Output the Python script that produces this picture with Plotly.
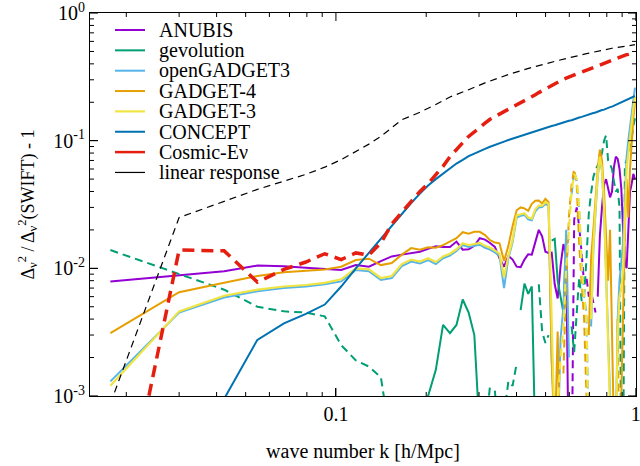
import math
import plotly.graph_objects as go

# Shared k bins [h/Mpc] of the measured spectra
K_BINS = [0.0177, 0.0300, 0.0424, 0.0547, 0.0671, 0.0794, 0.0918, 0.1041, 0.1165, 0.1288,
          0.1412, 0.1535, 0.1659, 0.1782, 0.1906, 0.2029, 0.2153, 0.2276, 0.2400, 0.2523,
          0.2647, 0.2770, 0.2894, 0.3017, 0.3141, 0.3264, 0.3388, 0.3511, 0.3635, 0.3758,
          0.3882, 0.4005, 0.4129, 0.4252, 0.4376, 0.4499, 0.4623, 0.4746, 0.4870, 0.4993,
          0.5117, 0.5240, 0.5364, 0.5487, 0.5611, 0.5734, 0.5858, 0.5981, 0.6105, 0.6228,
          0.6352, 0.6475, 0.6599, 0.6722, 0.6846, 0.6969, 0.7093, 0.7216, 0.7340, 0.7463,
          0.7587, 0.7710, 0.7834, 0.7957, 0.8081, 0.8204, 0.8328, 0.8451, 0.8575, 0.8698,
          0.8822, 0.8945, 0.9069, 0.9192, 0.9316, 0.9439, 0.9563, 0.9686, 0.9810, 0.9933]

# Relative difference to SWIFT (signed; negative values are drawn dashed as |value|)
ANUBIS = [0.0079, 0.0089, 0.0095, 0.0105, 0.0104, 0.0101, 0.0099, 0.0097, 0.0106, 0.0103,
          0.0114, 0.0124, 0.0128, 0.0131, 0.0135, 0.0142, 0.0149, 0.0147, 0.0147, 0.0162,
          0.0140, 0.0141, 0.0150, 0.0172, 0.0168, 0.0158, 0.0147, 0.0120, 0.0103, 0.0125,
          0.0117, 0.0103, 0.0102, 0.0117, 0.0129, 0.0128, 0.0160, 0.0200, 0.0178, 0.0135,
          0.0132, 0.0133, 0.0075, 0.0058, 0.0105, 0.0155, 0.0125, 0.0002, -0.0002, -0.0240,
          -0.0300, -0.0210, -0.0130, -0.0075, -0.0085, -0.0060, -0.0065, -0.0055, -0.0045, 0.0060,
          0.0180, 0.0300, 0.0450, 0.0500, 0.0420, 0.0360, 0.0400, 0.0620, 0.0750, 0.0720,
          0.0600, 0.0420, 0.0200, 0.0110, 0.0100, 0.0180, 0.0400, 0.0460, 0.0550, 0.0500]

GEVOLUTION = [-0.0139, -0.0090, -0.0068, -0.0050, -0.0046, -0.0045, -0.0042, -0.0025, -0.0019, -0.0017,
              -0.0014, -0.0004, 0.0002, 0.0004, 0.0007, 0.0010, 0.0016, 0.0036, 0.0031, 0.0036,
              0.0057, 0.0045, 0.0030, 0.0005, -0.0005, -0.0012, 0.0011, 0.0004, -0.0007, -0.0013,
              -0.0012, -0.0018, 0.0047, 0.0076, 0.0063, 0.0072, 0.0004, -0.0075, -0.0032, -0.0026,
              -0.0030, 0.0165, 0.0170, 0.0080, 0.0060, 0.0045, 0.0160, 0.0170, -0.0035, -0.0022,
              -0.0045, -0.0085, -0.0055, -0.0060, -0.0120, -0.0270, -0.0390, -0.0520, -0.0590, -0.0650,
              -0.0700, -0.0800, -0.1000, -0.1100, -0.0700, -0.0650, -0.0600, -0.0480, -0.0400, -0.0420,
              -0.0300, -0.0002, -0.0002, -0.0650, -0.0700, -0.0800, -0.0900, -0.1050, -0.1300, -0.1500]

OPENGADGET3 = [0.0013, 0.0045, 0.0059, 0.0066, 0.0070, 0.0072, 0.0075, 0.0079, 0.0097, 0.0095,
               0.0081, 0.0084, 0.0104, 0.0113, 0.0109, 0.0116, 0.0108, 0.0120, 0.0126, 0.0137,
               0.0152, 0.0147, 0.0150, 0.0153, 0.0145, 0.0140, 0.0133, 0.0125, 0.0070, 0.0120,
               0.0160, 0.0250, 0.0258, 0.0262, 0.0242, 0.0238, 0.0280, 0.0300, 0.0302, 0.0320,
               0.0310, 0.0019, 0.0006, 0.0004, 0.0028, 0.0050, 0.0200, 0.0020, -0.0380, -0.0580,
               -0.0480, -0.0280, -0.0110, -0.0060, -0.0045, -0.0004, 0.0035, 0.0140, 0.0280, 0.0520,
               0.0720, 0.0580, 0.0280, 0.0090, 0.0025, 0.0010, -0.0004, -0.0007, 0.0005, 0.0040,
               0.0080, 0.0120, 0.0160, 0.0350, 0.0750, 0.1000, 0.1300, 0.1700, 0.2100, 0.2600]

GADGET4 = [0.0031, 0.0065, 0.0077, 0.0087, 0.0093, 0.0095, 0.0098, 0.0103, 0.0116, 0.0119,
           0.0106, 0.0110, 0.0128, 0.0144, 0.0140, 0.0146, 0.0145, 0.0152, 0.0163, 0.0172,
           0.0192, 0.0187, 0.0193, 0.0193, 0.0182, 0.0166, 0.0159, 0.0157, 0.0114, 0.0150,
           0.0215, 0.0285, 0.0300, 0.0295, 0.0282, 0.0320, 0.0338, 0.0340, 0.0322, 0.0350,
           0.0330, 0.0020, 0.0004, 0.0032, 0.0002, -0.0015, -0.0080, -0.0250, -0.0450, -0.0600,
           -0.0450, -0.0150, -0.0080, -0.0040, -0.0010, 0.0030, 0.0120, 0.0200, 0.0350, 0.0600,
           0.0850, 0.0700, 0.0400, 0.0200, 0.0080, 0.0200, 0.0040, 0.0005, -0.0003, -0.0040,
           -0.0002, 0.0010, 0.0060, 0.0200, 0.0500, 0.0250, 0.0600, 0.1000, 0.1500, 0.2000]

GADGET3 = [0.0012, 0.0046, 0.0061, 0.0068, 0.0072, 0.0074, 0.0077, 0.0082, 0.0100, 0.0098,
           0.0084, 0.0087, 0.0108, 0.0117, 0.0113, 0.0120, 0.0112, 0.0124, 0.0130, 0.0141,
           0.0157, 0.0152, 0.0155, 0.0158, 0.0150, 0.0145, 0.0138, 0.0130, 0.0085, 0.0125,
           0.0167, 0.0260, 0.0265, 0.0270, 0.0250, 0.0245, 0.0290, 0.0310, 0.0310, 0.0330,
           0.0320, 0.0027, 0.0005, -0.0008, -0.0020, -0.0035, -0.0100, -0.0200, -0.0400, -0.0550,
           -0.0500, -0.0300, -0.0100, -0.0060, -0.0040, -0.0003, 0.0040, 0.0150, 0.0300, 0.0550,
           0.0750, 0.0600, 0.0300, 0.0080, 0.0020, 0.0008, -0.0005, -0.0008, 0.0004, 0.0030,
           0.0060, 0.0070, 0.0100, 0.0250, 0.0600, 0.0800, 0.1100, 0.1400, 0.1800, 0.2200]

CONCEPT = [-0.0003, -0.0002, 0.00095, 0.00275, 0.0037, 0.0044, 0.0052, 0.0072, 0.0100, 0.0132,
           0.0170, 0.0216, 0.0268, 0.0325, 0.0385, 0.0445, 0.0500, 0.0552, 0.0608, 0.0662,
           0.0708, 0.0757, 0.0793, 0.0832, 0.0863, 0.0897, 0.0922, 0.0957, 0.0983, 0.1012,
           0.1038, 0.1067, 0.1088, 0.1117, 0.1138, 0.1162, 0.1183, 0.1212, 0.1232, 0.1257,
           0.1278, 0.1303, 0.1322, 0.1348, 0.1367, 0.1393, 0.1408, 0.1433, 0.1448, 0.1477,
           0.1492, 0.1518, 0.1537, 0.1563, 0.1578, 0.1603, 0.1622, 0.1648, 0.1663, 0.1692,
           0.1708, 0.1738, 0.1752, 0.1783, 0.1798, 0.1832, 0.1848, 0.1878, 0.1897, 0.1933,
           0.1952, 0.1983, 0.2007, 0.2044, 0.2066, 0.2104, 0.2137, 0.2183, 0.2208, 0.2240]

COSMIC_ENU = [-0.000035, -0.0139, -0.0137, -0.0078, -0.0098, -0.0112, -0.0130, -0.0117, -0.0132, -0.0127,
              -0.0158, -0.0222, -0.0275, -0.0335, -0.0400, -0.0460, -0.0540, -0.0630, -0.0750, -0.0850,
              -0.0980, -0.1080, -0.1170, -0.1280, -0.1370, -0.1470, -0.1550, -0.1630, -0.1690, -0.1760,
              -0.1830, -0.1900, -0.1980, -0.2070, -0.2140, -0.2220, -0.2290, -0.2380, -0.2460, -0.2550,
              -0.2650, -0.2740, -0.2820, -0.2900, -0.2970, -0.3030, -0.3090, -0.3160, -0.3220, -0.3280,
              -0.3340, -0.3400, -0.3450, -0.3510, -0.3570, -0.3630, -0.3700, -0.3760, -0.3820, -0.3880,
              -0.3940, -0.4000, -0.4060, -0.4130, -0.4190, -0.4250, -0.4300, -0.4360, -0.4420, -0.4470,
              -0.4520, -0.4570, -0.4620, -0.4670, -0.4720, -0.4760, -0.4810, -0.4850, -0.4900, -0.4950]

# Linear-response prediction
K_LINEAR = [0.0177, 0.0300, 0.0547, 0.0794, 0.0918, 0.1041, 0.1288, 0.1412, 0.1659, 0.1906,
            0.2153, 0.2400, 0.2770, 0.3141, 0.3758, 0.4499, 0.5487, 0.6846, 0.8328, 0.9933]
LINEAR_RESPONSE = [-0.00087, -0.0250, -0.0415, -0.0545, -0.0620, -0.0710, -0.0940, -0.1080, -0.1460, -0.1670,
                   -0.1920, -0.2200, -0.2510, -0.2840, -0.3300, -0.3750, -0.4240, -0.4810, -0.5300, -0.5650]

# Axis ticks
X_TICKS = [0.1, 1]
X_TICK_TEXT = ["0.1", "1"]
X_MINOR = [0.02, 0.03, 0.04, 0.05, 0.06, 0.07, 0.08, 0.09, 0.2, 0.3, 0.4, 0.5, 0.6, 0.7, 0.8, 0.9]
Y_TICKS = [0.001, 0.01, 0.1, 1]
Y_TICK_TEXT = ["10<sup>-3</sup>", "10<sup>-2</sup>", "10<sup>-1</sup>", "10<sup>0</sup>"]
Y_MINOR = [0.002, 0.003, 0.004, 0.005, 0.006, 0.007, 0.008, 0.009,
           0.02, 0.03, 0.04, 0.05, 0.06, 0.07, 0.08, 0.09,
           0.2, 0.3, 0.4, 0.5, 0.6, 0.7, 0.8, 0.9]

# name, k, values, colour, width, dash pattern for negative parts
SERIES = [
    ("ANUBIS", K_BINS, ANUBIS, "#9400d3", 2.0, "8px,5px"),
    ("gevolution", K_BINS, GEVOLUTION, "#009e73", 2.0, "8px,5px"),
    ("openGADGET3", K_BINS, OPENGADGET3, "#56b4e9", 2.0, "8px,5px"),
    ("GADGET-4", K_BINS, GADGET4, "#e69f00", 2.0, "8px,5px"),
    ("GADGET-3", K_BINS, GADGET3, "#f0e442", 2.2, "8px,5px"),
    ("CONCEPT", K_BINS, CONCEPT, "#0072b2", 2.0, "8px,5px"),
    ("Cosmic-Eν", K_BINS, COSMIC_ENU, "#e51e10", 3.5, "12px,7px"),
    ("linear response", K_LINEAR, LINEAR_RESPONSE, "#000000", 1.2, "7px,5px"),
]

FONT = "Liberation Serif"
plot_l, plot_r, plot_t, plot_b = 90, 636, 13, 396
plot_w, plot_h = plot_r - plot_l, plot_b - plot_t
X_RANGE = [-1.82, 0.0005]
Y_RANGE = [-3.0005, 0.0005]

fig = go.Figure()
for name, kx, vals, color, width, dash in SERIES:
    pos = [v if v > 0 else None for v in vals]
    neg = [-v if v < 0 else None for v in vals]
    fig.add_trace(go.Scatter(x=kx, y=pos, mode="lines", name=name, showlegend=False,
                             line=dict(color=color, width=width)))
    fig.add_trace(go.Scatter(x=kx, y=neg, mode="lines", name=name, showlegend=False,
                             line=dict(color=color, width=width, dash=dash)))

# Key in the upper-left corner: solid sample line + label for each series
row0, row_step = 30.0, 20.35
for i, (name, _, _, color, width, _) in enumerate(SERIES):
    py = row0 + i * row_step
    yp = 1 - (py - plot_t) / plot_h
    fig.add_shape(type="line", xref="paper", yref="paper",
                  x0=(115 - plot_l) / plot_w, x1=(145 - plot_l) / plot_w, y0=yp, y1=yp,
                  line=dict(color=color, width=min(width, 2.5)))
    fig.add_annotation(xref="paper", yref="paper", x=(157 - plot_l) / plot_w, y=yp,
                       text=name, showarrow=False, xanchor="left", yanchor="middle",
                       font=dict(family=FONT, size=20, color="black"))


# Inward tick marks on all four sides of the frame (gnuplot style)
def frac(v, rng):
    return (math.log10(v) - rng[0]) / (rng[1] - rng[0])


tick_line = dict(color="black", width=1)
for vals, length in ((X_TICKS, 8), (X_MINOR, 4)):
    dy = length / plot_h
    for v in vals:
        xp = frac(v, X_RANGE)
        fig.add_shape(type="line", xref="paper", yref="paper", x0=xp, x1=xp, y0=0, y1=dy,
                      line=tick_line)
        fig.add_shape(type="line", xref="paper", yref="paper", x0=xp, x1=xp, y0=1, y1=1 - dy,
                      line=tick_line)
for vals, length in ((Y_TICKS, 8), (Y_MINOR, 4)):
    dx = length / plot_w
    for v in vals:
        yp = frac(v, Y_RANGE)
        fig.add_shape(type="line", xref="paper", yref="paper", x0=0, x1=dx, y0=yp, y1=yp,
                      line=tick_line)
        fig.add_shape(type="line", xref="paper", yref="paper", x0=1, x1=1 - dx, y0=yp, y1=yp,
                      line=tick_line)

axis_common = dict(showline=True, linecolor="black", mirror=True,
                   ticks="inside", ticklen=8, tickwidth=1, tickcolor="black",
                   tickmode="array", ticklabeloverflow="allow", automargin=False,
                   gridcolor="white",
                   tickfont=dict(family=FONT, size=20, color="black"))

fig.update_xaxes(type="log", range=X_RANGE, tickvals=X_TICKS, ticktext=X_TICK_TEXT,
                 title=dict(text="wave number k [h/Mpc]", standoff=19,
                            font=dict(family=FONT, size=20, color="black")),
                 **axis_common)
fig.update_yaxes(type="log", range=Y_RANGE, tickvals=Y_TICKS, ticktext=Y_TICK_TEXT,
                 title=dict(text="Δ<sub>ν</sub><sup>2</sup> / Δ<sub>ν</sub><sup>2</sup>(SWIFT) - 1",
                            standoff=14, font=dict(family=FONT, size=18, color="black")),
                 **axis_common)

fig.update_layout(width=640, height=466, autosize=False,
                  margin=dict(l=plot_l, r=640 - plot_r, t=plot_t, b=466 - plot_b),
                  paper_bgcolor="white", plot_bgcolor="white", showlegend=False)

fig.write_html("out.html")
